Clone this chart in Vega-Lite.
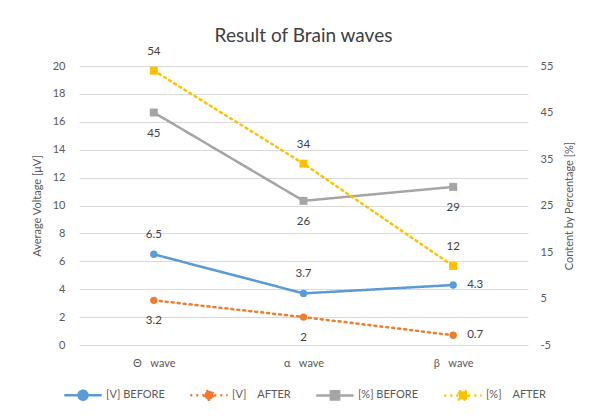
{
  "$schema": "https://vega.github.io/schema/vega-lite/v6.json",
  "width": 449,
  "height": 279,
  "autosize": "none",
  "padding": {"left": 79, "top": 66, "right": 66, "bottom": 73},
  "background": "white",
  "title": {"text": "Result of Brain waves", "fontSize": 19, "font": "Lato", "fontWeight": "normal", "color": "#404040", "offset": 0},
  "config": {"view": {"stroke": null}, "font": "Lato"},
  "data": {"values": [
    {"wave": "Θ  wave", "series": "[V] BEFORE", "unit": "V", "value": 6.5},
    {"wave": "α  wave", "series": "[V] BEFORE", "unit": "V", "value": 3.7},
    {"wave": "β  wave", "series": "[V] BEFORE", "unit": "V", "value": 4.3},
    {"wave": "Θ  wave", "series": "[V]  AFTER", "unit": "V", "value": 3.2},
    {"wave": "α  wave", "series": "[V]  AFTER", "unit": "V", "value": 2},
    {"wave": "β  wave", "series": "[V]  AFTER", "unit": "V", "value": 0.7},
    {"wave": "Θ  wave", "series": "[%] BEFORE", "unit": "P", "value": 45},
    {"wave": "α  wave", "series": "[%] BEFORE", "unit": "P", "value": 26},
    {"wave": "β  wave", "series": "[%] BEFORE", "unit": "P", "value": 29},
    {"wave": "Θ  wave", "series": "[%]  AFTER", "unit": "P", "value": 54},
    {"wave": "α  wave", "series": "[%]  AFTER", "unit": "P", "value": 34},
    {"wave": "β  wave", "series": "[%]  AFTER", "unit": "P", "value": 12}
  ]},
  "encoding": {
    "x": {"field": "wave", "type": "nominal", "sort": ["Θ  wave", "α  wave", "β  wave"],
      "scale": {"type": "point", "padding": 0.5},
      "axis": {"title": null, "labelAngle": 0, "ticks": false, "domain": false, "labelPadding": 12, "labelFontSize": 11, "labelColor": "#595959",
        "labelExpr": "replace(datum.label, '  ', '\u00a0\u00a0\u00a0')"}}
  },
  "layer": [
    {
      "transform": [{"filter": "datum.unit === 'V'"}],
      "encoding": {
        "y": {"field": "value", "type": "quantitative", "scale": {"domain": [0, 20], "nice": false, "zero": false},
          "axis": {"title": "Average Voltage [μV]", "values": [0, 2, 4, 6, 8, 10, 12, 14, 16, 18, 20], "grid": true, "gridColor": "#d9d9d9", "gridWidth": 1, "domain": false, "ticks": false, "labelPadding": 14, "labelColor": "#595959", "labelFontSize": 11, "titleFontSize": 11, "titleFontWeight": "normal", "titleColor": "#595959", "titlePadding": 10}}
      },
      "layer": [
        {
          "mark": {"type": "line", "strokeWidth": 2.5, "strokeCap": "round"},
          "encoding": {
            "color": {"field": "series", "type": "nominal",
              "scale": {"domain": ["[V] BEFORE", "[V]  AFTER", "[%] BEFORE", "[%]  AFTER"], "range": ["#5B9BD5", "#ED7D31", "#A5A5A5", "#FFC000"]},
              "legend": {"title": null, "orient": "none", "legendX": -16, "legendY": 309, "direction": "horizontal", "columns": 4,
                "symbolSize": 1400, "symbolStrokeWidth": 2.5, "labelFontSize": 11, "labelColor": "#595959", "labelOffset": 3, "columnPadding": 20,
                "labelExpr": "replace(datum.label, '  ', '\u00a0\u00a0\u00a0\u00a0')",
                "encode": {"symbols": {"update": {
                  "shape": {"signal": "indexof(datum.value, '%') >= 0 ? 'M-1,0L1,0M-0.22,-0.22L0.22,-0.22L0.22,0.22L-0.22,0.22L-0.22,-0.22Z' : 'M-1,0L1,0M0.24,0A0.24,0.24,0,1,1,-0.24,0A0.24,0.24,0,1,1,0.24,0Z'"},
                  "fill": {"scale": "color", "field": "value"}
                }}}}},
            "strokeDash": {"field": "series", "type": "nominal",
              "scale": {"domain": ["[V] BEFORE", "[V]  AFTER", "[%] BEFORE", "[%]  AFTER"], "range": [[1, 0], [2, 4], [1, 0], [2, 4]]},
              "legend": {"title": null}}
          }
        },
        {
          "mark": {"type": "point", "filled": true, "shape": "circle", "size": 55, "opacity": 1},
          "encoding": {"color": {"field": "series", "type": "nominal", "legend": null}}
        },
        {
          "transform": [{"filter": "datum.series === '[V] BEFORE' && datum.wave !== 'β  wave'"}],
          "mark": {"type": "text", "dy": -19, "fontSize": 11.5, "color": "#404040", "baseline": "middle"},
          "encoding": {"text": {"field": "value", "type": "nominal"}}
        },
        {
          "transform": [{"filter": "datum.series === '[V]  AFTER' && datum.wave !== 'β  wave'"}],
          "mark": {"type": "text", "dy": 21, "fontSize": 11.5, "color": "#404040", "baseline": "middle"},
          "encoding": {"text": {"field": "value", "type": "nominal"}}
        },
        {
          "transform": [{"filter": "datum.wave === 'β  wave'"}],
          "mark": {"type": "text", "dx": 14, "align": "left", "fontSize": 11.5, "color": "#404040", "baseline": "middle"},
          "encoding": {"text": {"field": "value", "type": "nominal"}}
        }
      ]
    },
    {
      "transform": [{"filter": "datum.unit === 'P'"}],
      "encoding": {
        "y": {"field": "value", "type": "quantitative", "scale": {"domain": [-5, 55], "nice": false, "zero": false},
          "axis": {"orient": "right", "title": "Content by Percentage [%]", "titleAngle": 270, "values": [-5, 5, 15, 25, 35, 45, 55], "grid": false, "domain": false, "ticks": false, "labelPadding": 12, "labelColor": "#595959", "labelFontSize": 11, "titleFontSize": 11, "titleFontWeight": "normal", "titleColor": "#595959", "titlePadding": 22,
            "labelExpr": "replace(datum.label, '−', '-')"}}
      },
      "layer": [
        {
          "mark": {"type": "line", "strokeWidth": 2.5, "strokeCap": "round"},
          "encoding": {
            "color": {"field": "series", "type": "nominal"},
            "strokeDash": {"field": "series", "type": "nominal"}
          }
        },
        {
          "mark": {"type": "point", "filled": true, "shape": "square", "size": 64, "opacity": 1},
          "encoding": {"color": {"field": "series", "type": "nominal", "legend": null}}
        },
        {
          "transform": [{"filter": "datum.series === '[%]  AFTER'"}],
          "mark": {"type": "text", "dy": -19, "fontSize": 11.5, "color": "#404040", "baseline": "middle"},
          "encoding": {"text": {"field": "value", "type": "nominal"}}
        },
        {
          "transform": [{"filter": "datum.series === '[%] BEFORE'"}],
          "mark": {"type": "text", "dy": 21, "fontSize": 11.5, "color": "#404040", "baseline": "middle"},
          "encoding": {"text": {"field": "value", "type": "nominal"}}
        }
      ]
    }
  ],
  "resolve": {"scale": {"y": "independent"}}
}
